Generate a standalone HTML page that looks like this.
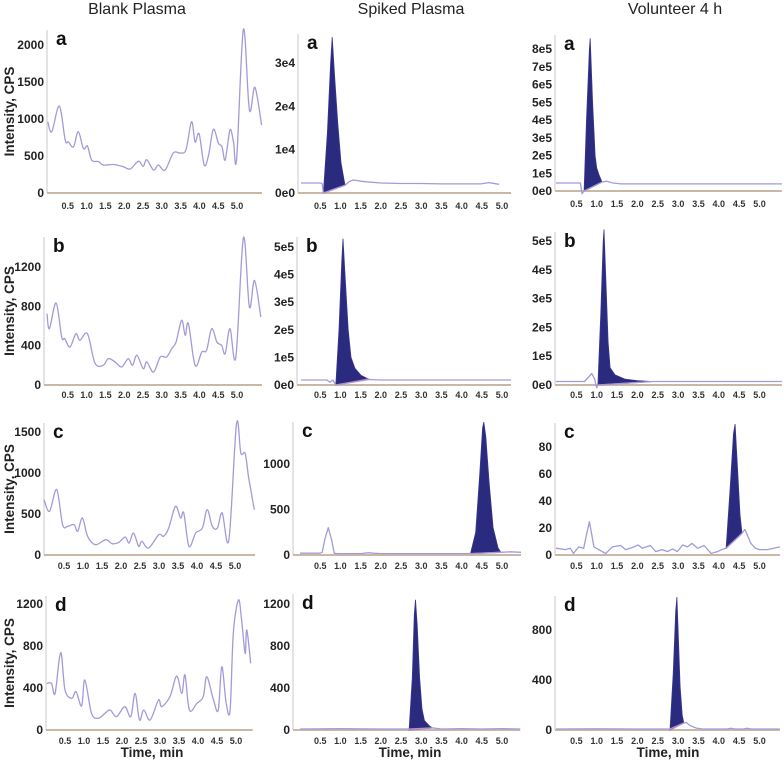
<!DOCTYPE html>
<html><head><meta charset="utf-8">
<style>
html,body{margin:0;padding:0;background:#fff;}
svg{display:block;}
text{font-family:"Liberation Sans",sans-serif;}
.ttl{font-size:16px;fill:#222;}
.yt{font-size:12px;font-weight:bold;fill:#222;}
.xt{font-size:9px;font-weight:bold;fill:#333;}
.lt{font-size:19px;font-weight:bold;fill:#111;}
.al{font-size:13.5px;font-weight:bold;fill:#222;}
</style></head>
<body>
<svg id="fig" width="784" height="762" viewBox="0 0 784 762" xmlns="http://www.w3.org/2000/svg">
<text class="ttl" x="137" y="14" text-anchor="middle">Blank Plasma</text>
<text class="ttl" x="411" y="14" text-anchor="middle">Spiked Plasma</text>
<text class="ttl" x="675" y="14" text-anchor="middle">Volunteer 4 h</text>
<text class="al" x="152" y="757" text-anchor="middle">Time, min</text>
<text class="al" x="410" y="757" text-anchor="middle">Time, min</text>
<text class="al" x="668" y="757" text-anchor="middle">Time, min</text>
</svg>
<script>
// ---- data ----
const xTickValues = [0.5,1.0,1.5,2.0,2.5,3.0,3.5,4.0,4.5,5.0];
const xTickLabels = ["0.5","1.0","1.5","2.0","2.5","3.0","3.5","4.0","4.5","5.0"];
const rowLetters = ["a","b","c","d"];

const blankA_t = [0.02,0.12,0.31,0.46,0.54,0.67,0.79,0.92,1.02,1.13,1.3,1.42,1.68,1.93,2.1,2.31,2.43,2.52,2.69,2.81,2.98,3.19,3.36,3.51,3.65,3.74,3.84,3.97,4.08,4.2,4.33,4.42,4.5,4.62,4.71,4.79,4.96,5.11,5.25,5.42];
const blankA_v = [962,828,1175,715,690,625,828,600,635,445,425,378,385,355,324,430,360,450,310,378,310,540,540,585,962,690,800,378,513,860,671,626,446,851,690,468,2211,1121,1428,918];
const blankB_t = [0,0.06,0.23,0.37,0.45,0.58,0.73,0.83,1.02,1.21,1.42,1.55,1.72,1.89,2.05,2.16,2.27,2.43,2.52,2.69,2.86,3.02,3.15,3.26,3.4,3.49,3.57,3.74,3.91,4.03,4.16,4.29,4.41,4.5,4.62,4.77,4.96,5.11,5.24,5.4];
const blankB_v = [725,573,834,488,470,386,522,454,522,224,200,268,234,183,268,200,302,166,234,132,285,285,370,437,658,505,624,200,336,353,573,437,403,319,573,285,1498,793,1064,692];
const blankC_t = [0,0.14,0.32,0.47,0.6,0.76,0.85,0.97,1.1,1.3,1.56,1.72,1.89,2.05,2.15,2.26,2.39,2.47,2.64,2.9,3.02,3.15,3.32,3.45,3.53,3.66,3.83,4.0,4.12,4.25,4.38,4.5,4.67,4.86,4.97,5.08,5.17,5.31];
const blankC_v = [675,533,797,370,350,370,289,451,228,126,187,138,154,220,146,268,106,167,85,248,228,329,593,451,512,106,268,329,553,350,329,512,187,1600,1244,1236,939,553];
const blankD_t = [0.02,0.14,0.23,0.37,0.48,0.65,0.76,0.9,0.98,1.15,1.32,1.49,1.62,1.78,1.99,2.14,2.25,2.36,2.47,2.63,2.84,2.92,3.13,3.3,3.43,3.51,3.62,3.81,3.97,4.06,4.23,4.35,4.44,4.55,4.65,4.73,4.86,4.94,5.03,5.07,5.17];
const blankD_v = [444,444,349,737,381,302,365,229,476,159,111,159,190,127,222,127,349,95,190,95,286,222,317,514,349,524,190,254,317,508,286,190,603,254,190,921,1238,1048,730,952,635];

const spikedA_t = [0,0.5,0.53,0.56,1.1,1.2,1.3,1.6,2.0,2.5,3.0,3.5,4.0,4.5,4.7,4.95];
const spikedA_v = [2300,2300,2100,0,1800,2600,3000,2600,2300,2200,2200,2100,2100,2100,2400,2000];
const spikedA_pt = [0.56,0.66,0.74,0.78,0.84,0.92,1.0,1.1];
const spikedA_pv = [0,14000,30000,36000,27000,16000,7000,1800];
const volA_t = [0,0.6,0.64,0.69,1.13,1.25,1.4,1.6,2,3,4,5,5.55];
const volA_v = [45000,45000,-15000,0,50000,55000,45000,40000,40000,40000,40000,40000,40000];
const volA_pt = [0.69,0.75,0.82,0.84,0.9,0.96,1.0,1.06,1.13];
const volA_pv = [0,400000,800000,860000,500000,200000,130000,90000,50000];

const spikedB_t = [0,0.65,0.72,0.8,0.87,1.7,2,3,4,5,5.25];
const spikedB_v = [18000,18000,10000,18000,0,20000,18000,18000,18000,18000,18000];
const spikedB_pt = [0.87,0.95,1.02,1.05,1.1,1.18,1.25,1.35,1.5,1.68];
const spikedB_pv = [0,200000,450000,530000,400000,200000,100000,60000,35000,22000];
const volB_t = [0,0.7,0.88,0.95,1.0,1.03,2.36,3,4,5,5.55];
const volB_v = [12000,12000,40000,20000,-10000,0,12000,12000,12000,12000,12000];
const volB_pt = [1.03,1.1,1.16,1.18,1.22,1.28,1.33,1.45,1.7,2.0,2.36];
const volB_pv = [0,250000,500000,540000,380000,150000,60000,35000,20000,15000,12000];

const spikedC_t = [0,0.5,0.55,0.62,0.7,0.78,0.85,0.92,1.5,1.7,1.8,2.0,3,4.22,4.97,5.2,5.47];
const spikedC_v = [20,20,30,180,300,170,20,15,15,25,20,15,15,15,30,35,30];
const spikedC_pt = [4.22,4.35,4.45,4.52,4.55,4.6,4.68,4.78,4.9,4.97];
const spikedC_pv = [15,250,900,1400,1460,1300,800,300,80,30];
const volC_t = [0,0.02,0.23,0.35,0.43,0.56,0.68,0.75,0.82,0.88,0.93,1.05,1.22,1.38,1.59,1.71,1.87,2.02,2.12,2.32,2.45,2.61,2.74,2.86,2.98,3.11,3.23,3.34,3.48,3.64,3.81,3.97,4.09,4.18,4.57,4.64,4.7,4.78,4.9,5.0,5.2,5.35,5.5];
const volC_v = [5,5,4,5,1.2,6,5,15,24.7,15,6,4,1,6,7,4,5.5,7.4,5,7,2.5,4,2.5,4.5,2.5,7.4,6,8.6,5,7,1.2,2.5,4.3,5,16,19,15,9,5,4,4,5,6];
const volC_pt = [4.18,4.28,4.36,4.4,4.45,4.52,4.57];
const volC_pv = [5,50,90,97,70,30,16];

const spikedD_t = [0,1,2,2.7,3.28,3.5,4,4.5,5,5.45];
const spikedD_v = [10,12,10,10,20,10,12,10,12,10];
const spikedD_pt = [2.7,2.78,2.83,2.86,2.9,2.96,3.02,3.08,3.2,3.28];
const spikedD_pv = [0,500,1100,1240,1000,500,200,90,40,20];
const volD_t = [0,1,2,2.8,3.14,3.2,3.3,3.45,3.6,4.2,4.3,4.4,4.6,4.7,4.8,5.5];
const volD_v = [8,10,8,8,56,60,35,15,8,8,14,8,8,14,8,8];
const volD_pt = [2.8,2.88,2.94,2.97,3.0,3.05,3.1,3.14];
const volD_pv = [0,450,950,1064,800,350,120,56];

const yTicksA1 = [0,500,1000,1500,2000]; const yLabA1 = ["0","500","1000","1500","2000"];
const yTicksA2 = [0,10000,20000,30000]; const yLabA2 = ["0e0","1e4","2e4","3e4"];
const yTicksA3 = [0,100000,200000,300000,400000,500000,600000,700000,800000]; const yLabA3 = ["0e0","1e5","2e5","3e5","4e5","5e5","6e5","7e5","8e5"];
const yTicksB1 = [0,400,800,1200]; const yLabB1 = ["0","400","800","1200"];
const yTicksB2 = [0,100000,200000,300000,400000,500000]; const yLabB2 = ["0e0","1e5","2e5","3e5","4e5","5e5"];
const yTicksC1 = [0,500,1000,1500]; const yLabC1 = ["0","500","1000","1500"];
const yTicksC2 = [0,500,1000]; const yLabC2 = ["0","500","1000"];
const yTicksC3 = [0,20,40,60,80]; const yLabC3 = ["0","20","40","60","80"];
const yTicksD1 = [0,400,800,1200]; const yLabD1 = ["0","400","800","1200"];
const yTicksD3 = [0,400,800]; const yLabD3 = ["0","400","800"];

// ---- layout ----
const panels = [
 {id:"blank-a",row:0,col:0,x0:47,k:39.6,ax:47,tEnd:5.43,y0:193,top:30,s:148/2000,tk:yTicksA1,tl:yLabA1,lx0:49,lk:37.6,ly:209,t:blankA_t,v:blankA_v},
 {id:"spiked-a",row:0,col:1,x0:301,k:40,ax:298,tEnd:5.25,y0:193,top:34,s:43.3/10000,tk:yTicksA2,tl:yLabA2,lx0:300,lk:40.4,ly:209,t:spikedA_t,v:spikedA_v,pt:spikedA_pt,pv:spikedA_pv},
 {id:"volunteer-a",row:0,col:2,x0:556,k:40.7,ax:555,tEnd:5.55,y0:191,top:35,s:17.75/100000,tk:yTicksA3,tl:yLabA3,lx0:556,lk:40.7,ly:207,t:volA_t,v:volA_v,pt:volA_pt,pv:volA_pv},
 {id:"blank-b",row:1,col:0,x0:47,k:39.6,ax:44,tEnd:5.43,y0:385,top:237,s:118/1200,tk:yTicksB1,tl:yLabB1,lx0:49,lk:37.6,ly:398,t:blankB_t,v:blankB_v},
 {id:"spiked-b",row:1,col:1,x0:301,k:40,ax:297,tEnd:5.25,y0:385,top:237,s:27.6/100000,tk:yTicksB2,tl:yLabB2,lx0:300,lk:40.4,ly:398,t:spikedB_t,v:spikedB_v,pt:spikedB_pt,pv:spikedB_pv},
 {id:"volunteer-b",row:1,col:2,x0:556,k:40.7,ax:555,tEnd:5.55,y0:385,top:232,s:28.8/100000,tk:yTicksB2,tl:yLabB2,lx0:556,lk:40.7,ly:398,t:volB_t,v:volB_v,pt:volB_pt,pv:volB_pv},
 {id:"blank-c",row:2,col:0,x0:44,k:39.6,ax:44,tEnd:5.33,y0:555,top:423,s:123/1500,tk:yTicksC1,tl:yLabC1,lx0:45,lk:38,ly:569,t:blankC_t,v:blankC_v},
 {id:"spiked-c",row:2,col:1,x0:300,k:40.4,ax:293,tEnd:5.47,y0:555,top:422,s:45.5/500,tk:yTicksC2,tl:yLabC2,lx0:300,lk:40.4,ly:569,t:spikedC_t,v:spikedC_v,pt:spikedC_pt,pv:spikedC_pv},
 {id:"volunteer-c",row:2,col:2,x0:556,k:40.7,ax:555,tEnd:5.5,y0:555,top:423,s:1.35,tk:yTicksC3,tl:yLabC3,lx0:556,lk:40.7,ly:569,t:volC_t,v:volC_v,pt:volC_pt,pv:volC_pv},
 {id:"blank-d",row:3,col:0,x0:46,k:39.6,ax:46,tEnd:5.22,y0:730,top:596,s:126/1200,tk:yTicksD1,tl:yLabD1,lx0:46,lk:38,ly:744,t:blankD_t,v:blankD_v},
 {id:"spiked-d",row:3,col:1,x0:300,k:40.4,ax:293,tEnd:5.45,y0:730,top:594,s:126/1200,tk:yTicksD1,tl:yLabD1,lx0:300,lk:40.4,ly:744,t:spikedD_t,v:spikedD_v,pt:spikedD_pt,pv:spikedD_pv},
 {id:"volunteer-d",row:3,col:2,x0:556,k:40.7,ax:555,tEnd:5.5,y0:730,top:596,s:50/400,tk:yTicksD3,tl:yLabD3,lx0:556,lk:40.7,ly:744,t:volD_t,v:volD_v,pt:volD_pt,pv:volD_pv}
];

const NS = "http://www.w3.org/2000/svg";
const svg = document.getElementById("fig");
function mk(tag, attrs, parent){
  const e = document.createElementNS(NS, tag);
  for (const a in attrs) e.setAttribute(a, attrs[a]);
  (parent||svg).appendChild(e);
  return e;
}
function smoothPath(P){
  let d = "M" + P[0][0].toFixed(1) + "," + P[0][1].toFixed(1);
  for (let i = 0; i < P.length - 1; i++) {
    const p0 = P[Math.max(0, i-1)], p1 = P[i], p2 = P[i+1], p3 = P[Math.min(P.length-1, i+2)];
    const c1x = p1[0] + (p2[0]-p0[0])/6, c1y = p1[1] + (p2[1]-p0[1])/6;
    const c2x = p2[0] - (p3[0]-p1[0])/6, c2y = p2[1] - (p3[1]-p1[1])/6;
    d += " C" + c1x.toFixed(1) + "," + c1y.toFixed(1) + " " + c2x.toFixed(1) + "," + c2y.toFixed(1) + " " + p2[0].toFixed(1) + "," + p2[1].toFixed(1);
  }
  return d;
}
panels.forEach(p => {
  const X = t => p.x0 + p.k * t;
  const Y = v => p.y0 - p.s * v;
  const g = mk("g", {});
  
  
  const ya = mk("line", {x1:p.ax, y1:p.top, x2:p.ax, y2:p.y0, stroke:"#d4d0d0", "stroke-width":1.2}, g);
  
  
  const xa = mk("line", {x1:p.ax, y1:p.y0, x2:X(p.tEnd), y2:p.y0, stroke:"#c9b8a8", "stroke-width":2}, g);
  
  
  p.tk.forEach((v, i) => {
    const tx = mk("text", {x:p.ax - 3, y:Y(v) + 4, "text-anchor":"end", class:"yt"}, g);
    tx.textContent = p.tl[i];
    
    
  });
  xTickValues.forEach((t, i) => {
    const tx = mk("text", {x:p.lx0 + p.lk * t, y:p.ly, "text-anchor":"middle", class:"xt"}, g);
    tx.textContent = xTickLabels[i];
    
    
  });
  const lt = mk("text", {x:p.ax + 9, y:p.top + 15, class:"lt"}, g);
  lt.textContent = rowLetters[p.row];
  
  
  if (p.pt) {
    let d = p.pt.map((t, i) => (i ? "L" : "M") + X(t).toFixed(1) + "," + Y(p.pv[i]).toFixed(1)).join(" ") + " Z";
    const pk = mk("path", {d:d, fill:"#2a2a7e", stroke:"#3a3790", "stroke-width":0.8}, g);
    
    
    const n = p.pt.length - 1;
    const bl = mk("line", {x1:X(p.pt[0]), y1:Y(p.pv[0]), x2:X(p.pt[n]), y2:Y(p.pv[n]), stroke:"#e0609a", "stroke-width":1.2}, g);
    
    
  }
  const P = p.t.map((t, i) => [X(t), Y(p.v[i])]);
  let tr;
  if (p.col === 0) {
    tr = mk("path", {d:smoothPath(P), fill:"none", stroke:"#a49ad8", "stroke-width":1.3}, g);
  } else {
    tr = mk("polyline", {points:P.map(q => q[0].toFixed(1) + "," + q[1].toFixed(1)).join(" "), fill:"none", stroke:"#a49ad8", "stroke-width":1.3, "stroke-linejoin":"round"}, g);
  }
  
  
  if (p.col === 0) {
    const cy = (p.top + p.y0) / 2;
    const yl = mk("text", {x:14, y:cy, "text-anchor":"middle", class:"al", transform:"rotate(-90 14 " + cy + ")"}, g);
    yl.textContent = "Intensity, CPS";
    
    
  }
});
</script>
</body></html>
